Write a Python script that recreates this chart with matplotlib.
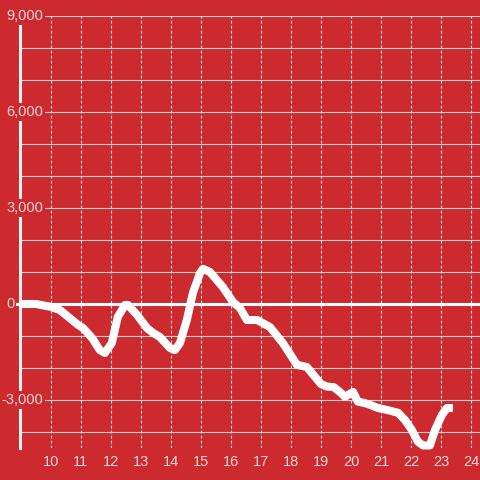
import matplotlib
matplotlib.use('Agg')
from matplotlib import pyplot as plt
import matplotlib.transforms as mtransforms

# 数据
hours = [9.0, 9.5, 10.0, 10.3, 10.63, 10.9, 11.07, 11.37, 11.63, 11.8,
         12.03, 12.23, 12.47, 12.57, 12.87, 13.2, 13.4, 13.63, 13.97, 14.13,
         14.3, 14.53, 14.73, 14.97, 15.07, 15.3, 15.73, 16.07, 16.3, 16.53,
         16.87, 17.3, 17.73, 18.2, 18.53, 19.0, 19.2, 19.43, 19.63, 19.8,
         20.07, 20.23, 20.47, 20.63, 20.9, 21.2, 21.57, 21.8, 22.03, 22.23,
         22.4, 22.63, 22.8, 23.03, 23.2, 23.4]
values = [0, 0, -90, -190, -440, -650, -750, -1060, -1440, -1530,
          -1220, -400, -30, -30, -340, -750, -900, -1030, -1375, -1440,
          -1220, -500, 340, 970, 1100, 1000, 530, 60, -125, -500,
          -500, -720, -1220, -1900, -1970, -2500, -2580, -2600, -2750, -2900,
          -2750, -3050, -3100, -3150, -3250, -3310, -3400, -3625, -3940, -4300,
          -4420, -4420, -3940, -3470, -3250, -3250]
x_ticks = list(range(10, 25))
y_grid = list(range(-4000, 9001, 1000))
y_label_vals = [9000, 6000, 3000, -3000]
y_label_txt = ['9,000', '6,000', '3,000', '-3,000']

bg = '#cd2a30'
txt_c = '#f3d6d6'

fig = plt.figure(figsize=(4.8, 4.8), dpi=100)
fig.patch.set_facecolor(bg)
ax = fig.add_axes([20/480, 32/480, 460/480, 432/480])
ax.set_facecolor(bg)

ax.set_xlim(8.97, 24.3)
ax.set_ylim(-4500, 9000)

for s in ['top', 'right', 'bottom']:
    ax.spines[s].set_visible(False)
ax.spines['left'].set_color('#f0f0f0')
ax.spines['left'].set_linewidth(2.2)

ax.set_yticks(y_grid)
ax.set_yticklabels([])
ax.tick_params(axis='y', length=0)
ax.yaxis.grid(True, color='#cfcfcf', linewidth=0.8)

ax.set_xticks(x_ticks)
ax.set_xticklabels([str(t) for t in x_ticks])
ax.tick_params(axis='x', length=0, pad=5, labelsize=10.5, labelcolor=txt_c)
ax.xaxis.grid(True, color='#f0e0e0', linewidth=0.8, linestyle=(0, (2.5, 2)))
for lab in ax.get_xticklabels():
    lab.set_fontfamily('Liberation Sans')

# 零线
ax.axhline(0, xmin=-3/460, xmax=1, color='white', linewidth=2.2, zorder=3, clip_on=False)

# 数据线
ax.plot(hours, values, color='white', linewidth=5.8, solid_capstyle='butt',
        solid_joinstyle='round', zorder=4, clip_on=False)

# y轴标签
trans = mtransforms.blended_transform_factory(ax.transAxes, ax.transData)
for v, t in zip(y_label_vals, y_label_txt):
    ax.text(23/460, v, t, transform=trans, ha='right', va='center', fontsize=10.5,
            color=txt_c, family='Liberation Sans', zorder=6,
            bbox=dict(facecolor=bg, edgecolor='none', pad=1.5))
ax.text(-5/460, 0, '0', transform=trans, ha='right', va='center', fontsize=10.5,
        color=txt_c, family='Liberation Sans', zorder=6)

fig.savefig('out.png', dpi=100, facecolor=bg)
